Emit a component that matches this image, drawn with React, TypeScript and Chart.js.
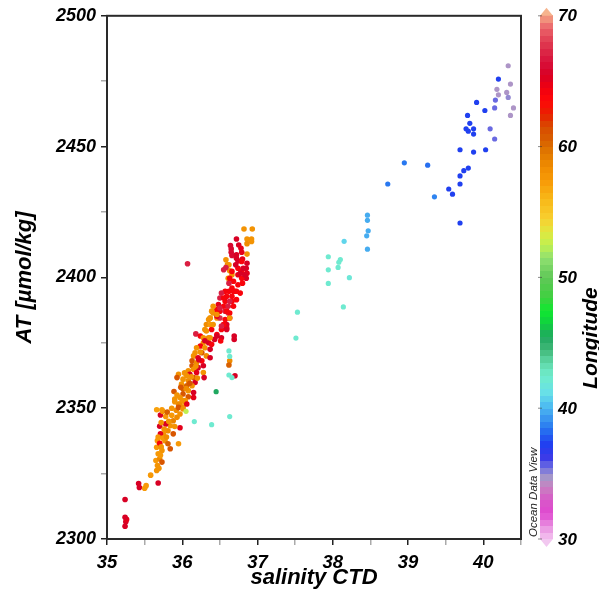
import React, { useEffect, useRef } from 'react';
import { Chart, registerables } from 'chart.js';

Chart.register(...registerables);

const FONT = '"Liberation Sans", Arial, Helvetica, sans-serif';

// ---- axis settings (values) ----
const xMin = 35;
const xMax = 40.5;
const yMin = 2300;
const yMax = 2500;
const lonMin = 30;
const lonMax = 70;
const colorbarTicks = [70, 60, 50, 40, 30];

// ---- offshore / eastern stations (salinity, AT, longitude) ----
const eastSalinity = [
  40.33, 40.2, 40.36, 40.18, 40.2, 40.31, 40.33, 40.16, 39.91, 40.15, 40.4, 40.02, 40.36, 39.79, 39.82, 39.77,
  39.8, 39.87, 39.87, 40.09, 40.15, 39.69, 39.87, 40.03, 38.95, 39.26, 39.8, 39.74, 39.69, 39.69, 38.73, 39.54,
  39.59, 39.35, 39.69, 38.46, 38.46, 38.47, 38.45, 38.46, 38.15, 37.94, 38.1, 38.08, 38.07, 37.94, 38.22, 37.94,
  38.14, 37.53, 37.51, 36.62, 36.63, 36.62, 36.66, 36.16, 36.39, 36.63, 36.45, 36.05,
];
const eastAT = [
  2480.9, 2475.8, 2473.9, 2471.9, 2469.8, 2470.7, 2468.8, 2467.8, 2466.9, 2464.8, 2464.8, 2463.8, 2461.9, 2461.9,
  2458.9, 2456.8, 2455.9, 2456.8, 2454.8, 2456.8, 2452.9, 2448.8, 2447.9, 2448.8, 2443.8, 2442.9, 2441.8, 2440.8,
  2438.8, 2435.7, 2435.7, 2433.8, 2431.8, 2430.8, 2420.8, 2423.8, 2421.8, 2417.8, 2415.9, 2410.8, 2413.8, 2407.9,
  2406.8, 2405.8, 2403.8, 2402.9, 2399.9, 2397.7, 2388.7, 2386.7, 2376.8, 2371.9, 2369.8, 2362.7, 2361.7, 2344.9,
  2343.7, 2346.8, 2356.3, 2348.8,
];
const eastLon = [
  34.6, 37.3, 34.6, 34.6, 34.6, 34.6, 35, 35.6, 37.3, 35.6, 34.6, 37.3, 34.6, 37.3, 37.3, 37.3,
  37.3, 37.3, 37.3, 35.6, 35.6, 37.3, 37.3, 37.3, 38.5, 38.3, 37.3, 37.3, 37.3, 37.3, 38.5, 37.3,
  37.3, 38.8, 37.3, 39.8, 39.8, 39.8, 39.8, 39.8, 40.9, 42.3, 42.3, 42.3, 42.3, 42.3, 42, 42.3,
  42.3, 42.3, 42.3, 42.3, 42.3, 42.3, 42.3, 42.3, 42.3, 42.3, 45.5, 52.5,
];

// ---- coastal cluster (salinity, AT, longitude) ----
const coastSalinity = [
  // lower part
  35.24, 35.25, 35.26, 35.24, 35.24, 35.42, 35.43, 35.68, 35.5, 35.52, 35.58, 35.66, 35.67, 35.65, 35.7, 35.68,
  35.73, 35.66, 35.7, 35.67, 35.77, 35.75, 35.81, 35.84, 35.88, 35.93, 35.97, 36.01, 35.95, 36.04, 35.71, 35.7,
  35.71, 35.78, 35.7, 35.97, 35.73, 35.66, 35.74, 35.84, 35.81, 35.88, 35.95, 35.69, 35.71, 35.72, 35.74, 35.76,
  35.79, 35.82, 35.86, 35.9, 35.92, 35.68, 35.72, 35.78, 35.86, 35.8, 35.9,
  // middle part
  36.41, 36.46, 36.35, 36.32, 36.37, 36.3, 36.39, 36.5, 36.57, 36.63, 36.61, 36.55, 36.59, 36.52, 36.59, 36.46,
  36.52, 36.43, 36.69, 36.69, 36.51, 36.18, 36.24, 36.28, 36.35, 36.28, 36.35, 36.39, 36.24, 36.19, 36.3, 36.37,
  36.26, 36.17, 36.15, 36.21, 36.32, 36.37, 36.13, 36.19, 36.26, 36.28, 36.13, 36.21, 36.15, 36.08, 36.1, 36.19,
  36.28, 36.06, 36.15, 36.29, 35.95, 35.93, 36.01, 36.08, 36.17, 35.99, 36.06, 36.13, 36.01, 36.08, 35.89, 36.15,
  36.01, 35.97, 36.08, 35.9, 36.15, 36.04, 35.97, 36.06, 35.95, 36.01, 35.73, 36.63, 36.62, 36.7,
  36.0, 36.05, 36.1, 36.12, 36.18, 36.22, 36.24, 36.3, 35.93, 35.98, 36.03, 36.2,
  // upper part
  36.82, 36.93, 36.86, 36.92, 36.92, 36.86, 36.86, 36.72, 36.64, 36.65, 36.65, 36.66, 36.75, 36.78, 36.79, 36.72,
  36.72, 36.74, 36.8, 36.86, 36.85, 36.86, 36.85, 36.79, 36.79, 36.8, 36.74, 36.74, 36.71, 36.58, 36.6, 36.62,
  36.63, 36.66, 36.61, 36.58, 36.55, 36.66, 36.68, 36.62, 36.66, 36.7, 36.62, 36.57, 36.59, 36.66, 36.52, 36.5,
  36.57, 36.66, 36.72, 36.77, 36.55, 36.61, 36.68, 36.48, 36.46, 36.5, 36.57, 36.63, 36.41, 36.39, 36.63, 36.46,
  36.37, 36.07,
  36.63, 36.77, 36.68, 36.55, 36.63, 36.5, 36.59, 36.46, 36.37, 36.41, 36.55, 36.59, 36.32, 36.37, 36.46, 36.52,
  36.72, 36.74, 36.81, 36.83, 36.79,
];
const coastAT = [
  // lower part
  2304.9, 2306.6, 2307.5, 2308.3, 2315.1, 2321.2, 2319.7, 2321.4, 2319.4, 2320.4, 2324.4, 2326.2, 2328.1, 2330.0,
  2330.7, 2332.6, 2333.8, 2335.1, 2336.4, 2337.6, 2337.6, 2340.2, 2341.4, 2343.3, 2345.2, 2346.5, 2347.8, 2350.3,
  2351.6, 2352.2, 2347.4, 2343.1, 2340.2, 2344.0, 2336.6, 2342.5, 2329.4, 2349.4, 2348.8, 2334.5, 2336.4, 2340.2,
  2336.4, 2327.0, 2332.0, 2335.2, 2338.6, 2342.0, 2339.0, 2345.0, 2347.3, 2343.0, 2349.2, 2339.0, 2344.5, 2346.8,
  2350.0, 2348.5, 2352.5,
  // middle part
  2386.4, 2384.5, 2383.9, 2382.0, 2382.0, 2380.1, 2380.1, 2384.5, 2383.9, 2384.5, 2386.4, 2382.0, 2382.0, 2380.1,
  2380.7, 2378.2, 2376.9, 2376.3, 2377.6, 2376.3, 2375.7, 2378.4, 2377.6, 2376.9, 2376.9, 2375.0, 2375.0, 2374.4,
  2373.8, 2373.1, 2373.1, 2372.5, 2371.2, 2371.2, 2370.0, 2369.3, 2370.0, 2369.3, 2368.1, 2367.4, 2368.1, 2366.2,
  2366.2, 2365.5, 2364.9, 2364.3, 2363.0, 2363.6, 2363.6, 2362.4, 2361.7, 2361.7, 2363.0, 2361.7, 2361.1, 2360.5,
  2359.8, 2359.2, 2358.6, 2358.6, 2357.3, 2356.7, 2356.4, 2356.0, 2355.4, 2354.1, 2354.4, 2353.5, 2354.1, 2352.9,
  2351.6, 2351.6, 2350.3, 2349.7, 2349.4, 2368.1, 2366.5, 2362.4,
  2353.0, 2357.5, 2359.5, 2362.0, 2366.0, 2368.5, 2371.5, 2375.8, 2355.0, 2358.0, 2363.5, 2361.5,
  // upper part
  2418.5, 2418.5, 2414.7, 2414.7, 2413.7, 2412.9, 2408.9, 2414.7, 2412.2, 2410.9, 2409.6, 2408.4, 2412.4, 2411.1,
  2409.6, 2408.6, 2407.3, 2406.3, 2407.0, 2405.4, 2403.5, 2401.6, 2399.7, 2402.3, 2399.7, 2397.8, 2403.5, 2401.0,
  2404.8, 2406.7, 2404.8, 2404.8, 2402.5, 2401.0, 2399.7, 2403.8, 2402.9, 2402.3, 2398.5, 2397.8, 2395.9, 2394.7,
  2394.7, 2394.7, 2392.8, 2392.8, 2394.0, 2392.1, 2390.9, 2390.9, 2391.5, 2394.0, 2389.0, 2389.0, 2389.0, 2389.6,
  2387.7, 2387.1, 2387.1, 2386.4, 2389.0, 2387.1, 2384.5, 2385.2, 2384.5, 2405.2,
  2399.7, 2401.6, 2394.7, 2392.1, 2390.9, 2388.3, 2387.1, 2385.8, 2384.5, 2382.0, 2382.0, 2380.1, 2379.5, 2376.9,
  2377.6, 2381.4, 2394.7, 2397.2, 2403.5, 2401.0, 2406.1,
];
const coastLon = [
  // lower part
  65.5, 65.5, 65, 65.5, 65.5, 65.5, 65.5, 65.5, 57.5, 57.5, 57.5, 58, 58, 57.5, 58.5, 57.5,
  58, 57.5, 58, 57.5, 58, 58, 58.5, 58, 59, 58.5, 58, 58, 59, 58, 65.5, 65.5,
  65, 65.5, 64, 65, 61, 57, 57.5, 61, 60.5, 61, 57.5, 58, 57.5, 58, 57.5, 58,
  58.5, 58, 57.5, 58, 58.5, 57.5, 58, 57.5, 58, 60.5, 58,
  // middle part
  58, 58, 58, 58.5, 57.5, 58, 64, 67.5, 64, 65.5, 67.5, 64, 65.5, 64, 65, 64,
  65.5, 65.5, 65.5, 65.5, 64, 67, 64, 58, 58.5, 58, 65.5, 64, 64, 58, 58, 65.5,
  61, 58, 58, 65, 58.5, 65.5, 61, 58.5, 64, 65.5, 61, 65.5, 58, 58, 65.5, 65,
  58, 58, 61, 65.5, 58, 61, 58, 58.5, 65.5, 58, 60.5, 58, 60.5, 58, 61, 65.5,
  61, 58, 61, 58, 65, 58, 58.5, 65, 61, 58, 57.5, 58.5, 60.5, 65.5,
  58, 58.5, 61, 58, 58, 65.5, 58, 65.5, 58, 61, 58, 58.5,
  // upper part
  58, 58, 58, 58, 58, 58.5, 58, 65.5, 66, 66, 66, 66, 65.5, 65, 65, 65.5,
  65.5, 65.5, 65, 65.5, 65.5, 65, 65.5, 64, 64, 64, 64, 65, 65.5, 58, 58.5, 58,
  58, 58, 58, 67, 67, 64, 64, 67, 64, 64, 64, 64, 64, 64, 67, 67,
  64, 64, 64, 64, 64, 67, 64, 65, 64, 64, 67, 64, 58, 58, 58, 65,
  58, 67,
  64, 65.5, 64, 64, 67, 67, 64, 58, 58, 58, 64, 65.5, 58, 58, 65.5, 67,
  64, 64, 65.5, 65.5, 64,
];

// ---- colour scale (longitude -> colour) ----
const lonStops: [number, string][] = [
  [30, '#f4c4f0'], [31, '#e890e0'], [32, '#e048d0'], [33, '#d858c8'], [34, '#c880c0'], [34.7, '#a898c8'],
  [35.5, '#7070e0'], [36.3, '#3838e8'], [37.3, '#2040f0'], [38.5, '#2878f0'], [39.5, '#40a0f0'],
  [40.3, '#50c0f0'], [41.2, '#68e0e8'], [42.5, '#70eccc'], [43.5, '#60d8a8'], [44.5, '#40b878'],
  [45.5, '#20a860'], [46.5, '#10d040'], [47.5, '#10e830'], [48.5, '#40d040'], [50, '#60c858'],
  [51.5, '#90e070'], [52.5, '#c0f050'], [53.5, '#e0e840'], [54.5, '#f8d030'], [56, '#f8b818'],
  [57.3, '#f89c08'], [58.5, '#f08c00'], [59.6, '#e07800'], [60.5, '#d86000'], [61.5, '#d84c00'],
  [62.5, '#e82000'], [63.5, '#ff0808'], [64.5, '#f00010'], [65.5, '#d80024'], [66.5, '#d8103a'],
  [67.5, '#dc2c48'], [68.5, '#e44c5c'], [69.3, '#ec7070'], [70, '#f4a482'],
];

function hexRgb(h: string): number[] {
  return [parseInt(h.slice(1, 3), 16), parseInt(h.slice(3, 5), 16), parseInt(h.slice(5, 7), 16)];
}

function lonColor(v: number): string {
  const t = Math.max(lonMin, Math.min(lonMax, v));
  for (let i = 0; i < lonStops.length - 1; i++) {
    const [a, ca] = lonStops[i];
    const [b, cb] = lonStops[i + 1];
    if (t >= a && t <= b) {
      const f = (t - a) / (b - a);
      const A = hexRgb(ca);
      const B = hexRgb(cb);
      const c = A.map((x, k) => Math.round(x + (B[k] - x) * f));
      return `rgb(${c[0]},${c[1]},${c[2]})`;
    }
  }
  return lonStops[lonStops.length - 1][1];
}

function toPoints(xs: number[], ys: number[]) {
  return xs.map((x, i) => ({ x, y: ys[i] }));
}

const xTickFont = { family: FONT, size: 18.5, style: 'italic' as const, weight: 'bold' as const };
const yTickFont = { family: FONT, size: 18, style: 'italic' as const, weight: 'bold' as const };
const titleFont = { family: FONT, size: 22, style: 'italic' as const, weight: 'bold' as const };

const decorPlugin = {
  id: 'decor',
  afterDraw(chart: any) {
    const ctx = chart.ctx as CanvasRenderingContext2D;
    const area = chart.chartArea;
    ctx.save();
    // frame
    ctx.strokeStyle = '#2a2a2a';
    ctx.lineWidth = 2;
    ctx.strokeRect(area.left, area.top, area.right - area.left, area.bottom - area.top);

    // colour bar
    const bx = 540;
    const bw = 13;
    const top = area.top;
    const bottom = area.bottom;
    const yOf = (v: number) => top + ((lonMax - v) / (lonMax - lonMin)) * (bottom - top);
    const step = 0.5;
    for (let v = lonMin; v < lonMax; v += step) {
      const y1 = yOf(v + step);
      const y2 = yOf(v);
      ctx.fillStyle = lonColor(v + step / 2);
      ctx.fillRect(bx, Math.floor(y1), bw, Math.ceil(y2) - Math.floor(y1));
    }
    // end triangles
    ctx.fillStyle = '#f6b48e';
    ctx.beginPath();
    ctx.moveTo(bx, top);
    ctx.lineTo(bx + bw, top);
    ctx.lineTo(bx + bw / 2, top - 8);
    ctx.closePath();
    ctx.fill();
    ctx.fillStyle = '#f2c8f0';
    ctx.beginPath();
    ctx.moveTo(bx, bottom);
    ctx.lineTo(bx + bw, bottom);
    ctx.lineTo(bx + bw / 2, bottom + 8);
    ctx.closePath();
    ctx.fill();

    // colour bar ticks & labels
    ctx.fillStyle = '#000';
    ctx.font = `italic bold 17px ${FONT}`;
    ctx.textAlign = 'left';
    ctx.textBaseline = 'middle';
    colorbarTicks.forEach((v) => {
      const y = yOf(v);
      ctx.fillText(String(v), 558, y + 1);
      ctx.strokeStyle = 'rgba(60,60,60,0.6)';
      ctx.lineWidth = 1;
      ctx.beginPath();
      ctx.moveTo(bx - 2, y);
      ctx.lineTo(bx + 2, y);
      ctx.stroke();
    });

    // Longitude label
    ctx.save();
    ctx.translate(597, 338);
    ctx.rotate(-Math.PI / 2);
    ctx.font = `italic bold 21px ${FONT}`;
    ctx.textAlign = 'center';
    ctx.textBaseline = 'alphabetic';
    ctx.fillText('Longitude', 0, 0);
    ctx.restore();

    // Ocean Data View label
    ctx.save();
    ctx.translate(536.5, 537);
    ctx.rotate(-Math.PI / 2);
    ctx.font = `italic 11.5px ${FONT}`;
    ctx.fillStyle = '#222';
    ctx.textAlign = 'left';
    ctx.textBaseline = 'alphabetic';
    ctx.fillText('Ocean Data View', 0, 0);
    ctx.restore();

    ctx.restore();
  },
};

export default function App() {
  const canvasRef = useRef<HTMLCanvasElement | null>(null);

  useEffect(() => {
    if (!canvasRef.current) return;
    const chart = new Chart(canvasRef.current, {
      type: 'scatter',
      data: {
        datasets: [
          {
            label: 'east',
            data: toPoints(eastSalinity, eastAT),
            pointBackgroundColor: eastLon.map(lonColor),
            pointBorderWidth: 0,
            pointRadius: 2.6,
          },
          {
            label: 'coast',
            data: toPoints(coastSalinity, coastAT),
            pointBackgroundColor: coastLon.map(lonColor),
            pointBorderWidth: 0,
            pointRadius: 2.8,
          },
        ],
      },
      options: {
        responsive: false,
        animation: false,
        devicePixelRatio: 1,
        events: [],
        layout: { padding: { top: 13, right: 78, left: 0, bottom: 0 } },
        plugins: { legend: { display: false }, tooltip: { enabled: false } },
        scales: {
          x: {
            type: 'linear',
            min: xMin,
            max: xMax,
            afterFit: (s: any) => {
              s.height = 57;
            },
            border: { display: false },
            grid: {
              drawOnChartArea: false,
              drawTicks: true,
              tickLength: 6,
              lineWidth: 1.5,
              color: (c: any) => (c.tick && Number.isInteger(c.tick.value) ? '#222' : '#aaa'),
            },
            ticks: {
              stepSize: 0.5,
              autoSkip: false,
              maxRotation: 0,
              padding: 6.5,
              color: '#000',
              font: xTickFont,
              callback: (v: any) => (Number.isInteger(v) ? String(v) : ''),
            },
            title: {
              display: true,
              text: 'salinity CTD',
              color: '#000',
              font: titleFont,
              padding: { top: 0, bottom: 5 },
            },
          },
          y: {
            type: 'linear',
            min: yMin,
            max: yMax,
            afterFit: (s: any) => {
              s.width = 107;
            },
            border: { display: false },
            grid: {
              drawOnChartArea: false,
              drawTicks: true,
              tickLength: 6,
              lineWidth: 1.5,
              color: (c: any) => (c.tick && c.tick.value % 50 === 0 ? '#222' : '#aaa'),
            },
            ticks: {
              stepSize: 25,
              autoSkip: false,
              padding: 5,
              color: '#000',
              font: yTickFont,
              callback: (v: any) => (v % 50 === 0 ? String(v) : ''),
            },
            title: {
              display: true,
              text: 'AT [µmol/kg]',
              color: '#000',
              font: titleFont,
              padding: { top: 12, bottom: 0 },
            },
          },
        },
      },
      plugins: [decorPlugin],
    } as any);
    return () => chart.destroy();
  }, []);

  return (
    <div style={{ position: 'fixed', left: 0, top: 0, width: 599, height: 596, background: '#fff' }}>
      <canvas ref={canvasRef} width={599} height={596} style={{ display: 'block', width: 599, height: 596 }} />
    </div>
  );
}
